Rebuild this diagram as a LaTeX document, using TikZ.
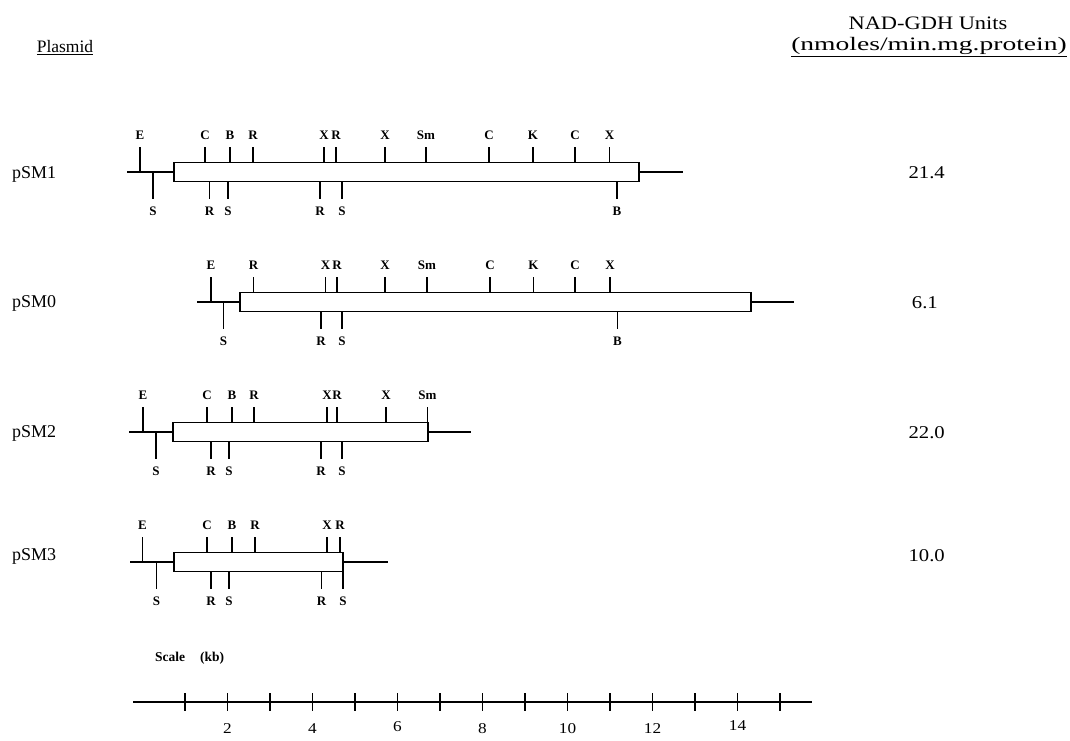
\documentclass[tikz,border=0pt]{standalone}
\usepackage{fontspec}
\setmainfont{Liberation Serif}
\usepackage{graphicx}
\tikzset{
  bb/.style={line width=1.8pt},
  gene/.style={line width=1.8pt, fill=white},
  tick/.style={line width=1.8pt},
  site/.style={font=\fontsize{13}{13}\selectfont\bfseries, inner sep=0pt},
  pname/.style={font=\fontsize{18}{18}\selectfont, anchor=west, inner sep=0pt},
  pval/.style={font=\fontsize{18}{18}\selectfont, anchor=east, inner sep=0pt},
  axnum/.style={font=\fontsize{15}{15}\selectfont, inner sep=0pt},
}
% \plas{name}{y}{bbL}{bbR}{boxL}{boxR}
\newcommand{\plas}[6]{%
  \draw[bb] (#3,#2) -- (#4,#2);
  \draw[gene] (#5,#2-9.5) rectangle (#6,#2+9.5);
}
\newcommand{\tsite}[4]{%
  \draw[tick] (#2,#1-25) -- (#2,#1-9.5);
  \node[site] (#4) at (#2,#1-37) {#3};}
\newcommand{\tsiteb}[4]{%
  \draw[tick] (#2,#1-25) -- (#2,#1);
  \node[site] (#4) at (#2,#1-37) {#3};}
\newcommand{\bsite}[4]{%
  \draw[tick] (#2,#1+9.5) -- (#2,#1+27);
  \node[site] (#4) at (#2,#1+39) {#3};}
\newcommand{\bsiteb}[4]{%
  \draw[tick] (#2,#1) -- (#2,#1+27);
  \node[site] (#4) at (#2,#1+39) {#3};}
\newcommand{\vtext}[1]{\scalebox{1.15}[1]{#1}}
\begin{document}
\begin{tikzpicture}[x=1pt,y=-1pt]
\useasboundingbox (0,0) rectangle (1070,740);

% headers
\node[font=\fontsize{17.5}{17.5}\selectfont, inner sep=0pt] (hplas) at (65,48) {\underline{Plasmid}};
\node[font=\fontsize{19}{19}\selectfont, inner sep=0pt] (hunits) at (928,23) {\scalebox{1.18}[1]{NAD-GDH Units}};
\node[font=\fontsize{19}{19}\selectfont, inner sep=0pt] (hnm) at (929,47) {\scalebox{1.45}[1]{\underline{(nmoles/min.mg.protein)}}};

% pSM1
\node[pname] (n1) at (12,174) {pSM1};
\node[pval] (v1) at (945,173) {\vtext{21.4}};
\plas{pSM1}{172}{127}{683}{174}{639}
\tsiteb{172}{140}{E}{a1}
\tsite{172}{205}{C}{a2}
\tsite{172}{230}{B}{a3}
\tsite{172}{253}{R}{a4}
\tsite{172}{324}{X}{a5}
\tsite{172}{336}{R}{a6}
\tsite{172}{385}{X}{a7}
\tsite{172}{426}{Sm}{a8}
\tsite{172}{489}{C}{a9}
\tsite{172}{533}{K}{a10}
\tsite{172}{575}{C}{a11}
\tsite{172}{609.5}{X}{a12}
\bsiteb{172}{153}{S}{b1}
\bsite{172}{209.5}{R}{b2}
\bsite{172}{228}{S}{b3}
\bsite{172}{320}{R}{b4}
\bsite{172}{342}{S}{b5}
\bsite{172}{617}{B}{b6}

% pSM0
\node[pname] (n0) at (12,303) {pSM0};
\node[pval] (v0) at (938,303) {\vtext{6.1}};
\plas{pSM0}{302}{197}{794}{240}{751}
\tsiteb{302}{211}{E}{c1}
\tsite{302}{253.5}{R}{c2}
\tsite{302}{325.5}{X}{c3}
\tsite{302}{337}{R}{c4}
\tsite{302}{385}{X}{c5}
\tsite{302}{427}{Sm}{c6}
\tsite{302}{490}{C}{c7}
\tsite{302}{533.5}{K}{c8}
\tsite{302}{575}{C}{c9}
\tsite{302}{610}{X}{c10}
\bsiteb{302}{223.5}{S}{d1}
\bsite{302}{321}{R}{d2}
\bsite{302}{342}{S}{d3}
\bsite{302}{617.5}{B}{d4}

% pSM2
\node[pname] (n2) at (12,433) {pSM2};
\node[pval] (v2) at (945,433) {\vtext{22.0}};
\plas{pSM2}{432}{129}{471}{173}{428}
\tsiteb{432}{143}{E}{e1}
\tsite{432}{207}{C}{e2}
\tsite{432}{232}{B}{e3}
\tsite{432}{254}{R}{e4}
\tsite{432}{327}{X}{e5}
\tsite{432}{337}{R}{e6}
\tsite{432}{386}{X}{e7}
\tsite{432}{427.5}{Sm}{e8}
\bsiteb{432}{156}{S}{f1}
\bsite{432}{211}{R}{f2}
\bsite{432}{229}{S}{f3}
\bsite{432}{321}{R}{f4}
\bsite{432}{342}{S}{f5}

% pSM3
\node[pname] (n3) at (12,556) {pSM3};
\node[pval] (v3) at (945,556) {\vtext{10.0}};
\plas{pSM3}{562}{130}{388}{174}{343}
\tsiteb{562}{142.5}{E}{g1}
\tsite{562}{207}{C}{g2}
\tsite{562}{232}{B}{g3}
\tsite{562}{255}{R}{g4}
\tsite{562}{327}{X}{g5}
\tsite{562}{340}{R}{g6}
\bsiteb{562}{156.5}{S}{h1}
\bsite{562}{211}{R}{h2}
\bsite{562}{229}{S}{h3}
\bsite{562}{321.5}{R}{h4}
\bsite{562}{343}{S}{h5}

% scale
\node[font=\fontsize{13.5}{13.5}\selectfont\bfseries, anchor=west, inner sep=0pt] (sc) at (155,658) {Scale\hspace{1.1em}(kb)};
\coordinate (axL) at (133,702);
\coordinate (axR) at (812,702);
\draw[line width=1.6pt] (axL) -- (axR);
\foreach \i in {0,...,14}{
  \draw[line width=1.6pt] ({185+42.5*\i},693) -- ({185+42.5*\i},711);
}
\foreach \n/\i/\dy in {2/1/0,4/3/0,6/5/-2,8/7/0,10/9/0,12/11/0}{
  \node[axnum] (t\n) at ({185+42.5*\i},729+\dy) {\scalebox{1.15}[1]{\n}};
}
\node[axnum] (t14) at ({185+42.5*13},726) {\scalebox{1.15}[1]{14}};
\end{tikzpicture}
\end{document}
